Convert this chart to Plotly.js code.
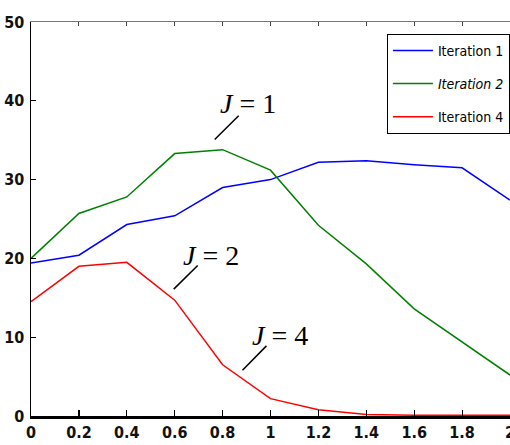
<!DOCTYPE html>
<html>
<head>
<meta charset="utf-8">
<script src="https://cdn.plot.ly/plotly-3.0.1.min.js"></script>
<style>html,body{margin:0;padding:0;background:#fff;}#chart{width:510px;height:445px;}</style>
</head>
<body>
<div id="chart"></div>
<script>
const xValues = [0, 0.2, 0.4, 0.6, 0.8, 1.0, 1.2, 1.4, 1.6, 1.8, 2.0];
const iteration1 = [19.4, 20.4, 24.3, 25.4, 29.0, 30.0, 32.2, 32.4, 31.9, 31.5, 27.4];
const iteration2 = [20.0, 25.7, 27.8, 33.3, 33.8, 31.2, 24.2, 19.3, 13.6, 9.4, 5.2];
const iteration4 = [14.5, 19.0, 19.5, 14.7, 6.5, 2.2, 0.8, 0.2, 0.1, 0.1, 0.1];
const seriesNames = ["Iteration 1", "<i>Iteration 2</i>", "Iteration 4"];
const xTicks = [0, 0.2, 0.4, 0.6, 0.8, 1, 1.2, 1.4, 1.6, 1.8, 2];
const xTickText = ["0", "0.2", "0.4", "0.6", "0.8", "1", "1.2", "1.4", "1.6", "1.8", "2"];
const yTicks = [0, 10, 20, 30, 40, 50];
const labels = [
  {text: "<i>J</i> = 1", x: 0.905, y: 39.6, lx0: 0.767, ly0: 35.1, lx1: 0.867, ly1: 38.1},
  {text: "<i>J</i> = 2", x: 0.752, y: 20.4, lx0: 0.596, ly0: 16.1, lx1: 0.696, ly1: 19.1},
  {text: "<i>J</i> = 4", x: 1.04, y: 10.2, lx0: 0.883, ly0: 5.8, lx1: 0.983, ly1: 8.9}
];

const colors = ["#0000ff", "#008000", "#ff0000"];
const series = [iteration1, iteration2, iteration4];
const traces = series.map((ys, i) => ({
  x: xValues, y: ys, type: "scatter", mode: "lines",
  name: seriesNames[i], legendgroup: "g" + i,
  line: {color: colors[i], width: 1.5}, cliponaxis: false
}));
traces.push({x: [0, 2], y: [0, 0], xaxis: "x2", yaxis: "y", mode: "lines",
  line: {width: 0}, showlegend: false, hoverinfo: "skip"});

const narrow = "DejaVu Sans Condensed, Liberation Sans Narrow, Liberation Sans, Arial";
const tickFont = {family: narrow, size: 16, color: "#111", weight: "bold"};

const layout = {
  width: 510, height: 445,
  margin: {l: 31, r: 0, t: 22, b: 29, pad: 0},
  paper_bgcolor: "#fff", plot_bgcolor: "#fff",
  showlegend: true,
  legend: {
    x: 0.743, y: 0.97, xanchor: "left", yanchor: "top",
    bgcolor: "#fff", bordercolor: "#000", borderwidth: 1,
    font: {family: narrow, size: 14, color: "#000"},
    tracegroupgap: 12, traceorder: "grouped", itemwidth: 40
  },
  xaxis: {
    range: [0, 2], tickvals: xTicks, ticktext: xTickText,
    ticks: "inside", ticklen: 6, tickwidth: 1.2, tickcolor: "#000",
    showline: true, linecolor: "#000", linewidth: 3,
    showgrid: false, zeroline: false, tickfont: tickFont,
    ticklabeloverflow: "allow"
  },
  xaxis2: {
    range: [0, 2], overlaying: "x", side: "top", tickvals: xTicks,
    showticklabels: false, ticks: "inside", ticklen: 4, tickwidth: 1, tickcolor: "#444",
    showline: true, linecolor: "#777", linewidth: 1, showgrid: false, zeroline: false
  },
  yaxis: {
    range: [0, 50], tickvals: yTicks,
    ticks: "inside", ticklen: 5, tickwidth: 1.2, tickcolor: "#000",
    showline: true, linecolor: "#000", linewidth: 1.5,
    showgrid: false, zeroline: false, tickfont: tickFont,
    ticklabelstandoff: 2
  },
  shapes: labels.map(l => ({type: "line", xref: "x", yref: "y",
    x0: l.lx0, y0: l.ly0, x1: l.lx1, y1: l.ly1, line: {color: "#000", width: 1.5}})),
  annotations: labels.map(l => ({text: l.text, x: l.x, y: l.y, xref: "x", yref: "y",
    showarrow: false, font: {family: "Liberation Serif, Times New Roman, serif", size: 28, color: "#000"}}))
};

Plotly.newPlot("chart", traces, layout, {displayModeBar: false, staticPlot: true});
</script>
</body>
</html>
